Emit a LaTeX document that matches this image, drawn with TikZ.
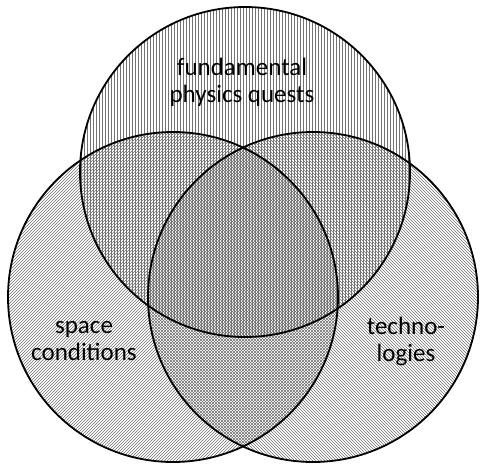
\documentclass[tikz,border=0pt]{standalone}
\usepackage{fontspec}
\setmainfont{Carlito}
\usetikzlibrary{patterns}

\begin{document}
\begin{tikzpicture}[
x=1pt, y=-1pt,
set/.style={circle, minimum size=330pt, inner sep=0pt, outer sep=0pt, pattern color=black!55},
rim/.style={line width=1.8pt, black},
label/.style={align=center, font=\fontsize{25}{27}\selectfont, text=black}
]
\useasboundingbox (0,0) rectangle (481,463);
% the three sets
\node[set, pattern=vertical lines] (phys) at (245,172) {};
\node[set, pattern=north east lines] (space) at (173,297) {};
\node[set, pattern=north west lines] (tech) at (313,297) {};
\foreach \s in {phys,space,tech}
  \draw[rim] (\s.center) circle (165pt);
% texts
\node[label] (physlbl) at (242,82) {fundamental\\physics quests};
\node[label] (spacelbl) at (84,341) {space\\conditions};
\node[label] (techlbl) at (406,341) {techno-\\logies};
\end{tikzpicture}
\end{document}
